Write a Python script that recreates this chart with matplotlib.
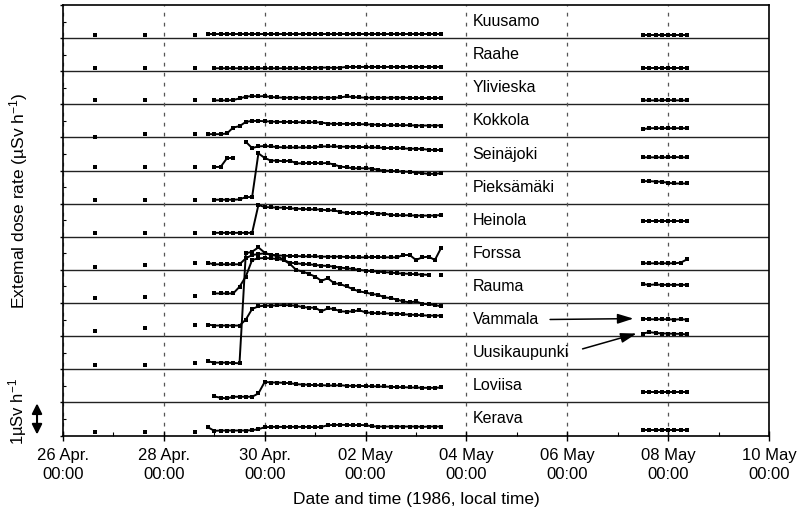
import numpy as np
import pandas as pd
import matplotlib
matplotlib.use('Agg')
import matplotlib.pyplot as plt
import matplotlib.dates as mdates

plt.rcParams['font.family'] = ['Liberation Sans', 'DejaVu Sans']
plt.rcParams['mathtext.fontset'] = 'custom'
plt.rcParams['mathtext.rm'] = 'Liberation Sans'
plt.rcParams['mathtext.it'] = 'Liberation Sans:italic'

nan = np.nan

# sampling times: three daily readings, 3-hourly series, and the later check
t_daily = pd.to_datetime(['1986-04-26 15:00', '1986-04-27 15:00', '1986-04-28 15:00'])
t_main = pd.date_range('1986-04-28 21:00', '1986-05-03 12:00', freq='3h')
t_late = pd.date_range('1986-05-07 12:00', periods=8, freq='3h')

# dose rates, uSv/h
kuusamo_d = [0.09, 0.09, 0.09]
kuusamo_m = [0.11, 0.11, 0.11, 0.11, 0.11, 0.11, 0.11, 0.11, 0.11, 0.11,
             0.11, 0.11, 0.11, 0.11, 0.11, 0.11, 0.11, 0.11, 0.11, 0.11,
             0.11, 0.11, 0.11, 0.11, 0.11, 0.11, 0.11, 0.11, 0.11, 0.11,
             0.11, 0.11, 0.11, 0.11, 0.11, 0.11, 0.11, 0.11]
kuusamo_l = [0.1, 0.1, 0.1, 0.1, 0.1, 0.1, 0.1, 0.1]

raahe_d = [0.09, 0.09, 0.09]
raahe_m = [nan, 0.09, 0.09, 0.09, 0.09, 0.09, 0.09, 0.09, 0.09, 0.09,
           0.09, 0.09, 0.09, 0.09, 0.09, 0.09, 0.1, 0.1, 0.11, 0.11,
           0.1, 0.11, 0.13, 0.13, 0.13, 0.13, 0.13, 0.13, 0.13, 0.13,
           0.13, 0.13, 0.13, 0.13, 0.13, 0.13, 0.13, 0.13]
raahe_l = [0.09, 0.09, 0.09, 0.09, 0.09, 0.09, 0.09, 0.09]

ylivieska_d = [0.13, 0.13, 0.13]
ylivieska_m = [nan, 0.12, 0.12, 0.12, 0.13, 0.18, 0.23, 0.25, 0.24, 0.25,
               0.22, 0.21, 0.2, 0.2, 0.2, 0.2, 0.2, 0.2, 0.2, 0.2,
               0.2, 0.21, 0.24, 0.22, 0.21, 0.2, 0.2, 0.2, 0.2, 0.2,
               0.2, 0.2, 0.19, 0.19, 0.19, 0.19, 0.19, 0.19]
ylivieska_l = [0.12, 0.12, 0.12, 0.12, 0.13, 0.12, 0.12, 0.12]

kokkola_d = [0.02, 0.09, 0.09]
kokkola_m = [0.1, 0.1, 0.1, 0.12, 0.3, 0.34, 0.47, 0.5, 0.5, 0.49,
             0.48, 0.47, 0.47, 0.47, 0.46, 0.46, 0.46, 0.46, 0.45, 0.42,
             0.41, 0.41, 0.41, 0.41, 0.4, 0.4, 0.39, 0.38, 0.37, 0.37,
             0.37, 0.37, 0.37, 0.36, 0.36, 0.36, 0.36, 0.36]
kokkola_l = [0.25, 0.28, 0.28, 0.28, 0.28, 0.28, 0.28, 0.28]

seinajoki_d = [0.11, 0.11, 0.11]
seinajoki_m = [nan, 0.11, 0.11, 0.37, 0.39, nan, 0.87, 0.68, 0.73, 0.74,
               0.73, 0.71, 0.7, 0.7, 0.7, 0.7, 0.7, 0.71, 0.73, 0.73,
               0.73, 0.72, 0.72, 0.72, 0.71, 0.71, 0.7, 0.7, 0.68, 0.68,
               0.68, 0.67, 0.66, 0.66, 0.65, 0.63, 0.62, 0.62]
seinajoki_l = [0.4, 0.4, 0.4, 0.4, 0.4, 0.41, 0.4, 0.4]

pieksamaki_d = [0.11, 0.11, 0.12]
pieksamaki_m = [nan, 0.12, 0.12, 0.12, 0.12, 0.13, 0.2, 0.2, 1.52, 1.38,
                1.3, 1.3, 1.28, 1.3, 1.22, 1.22, 1.23, 1.23, 1.22, 1.23,
                1.18, 1.12, 1.1, 1.07, 1.07, 1.07, 1.06, 1.02, 1.0, 0.99,
                0.98, 0.97, 0.96, 0.94, 0.92, 0.9, 0.9, 0.92]
pieksamaki_l = [0.68, 0.68, 0.67, 0.66, 0.63, 0.61, 0.61, 0.61]

heinola_d = [0.12, 0.12, 0.12]
heinola_m = [nan, 0.12, 0.12, 0.12, 0.12, 0.12, 0.12, 0.12, 0.96, 0.9,
             0.89, 0.88, 0.88, 0.86, 0.85, 0.84, 0.83, 0.83, 0.82, 0.8,
             0.8, 0.75, 0.72, 0.72, 0.72, 0.72, 0.72, 0.7, 0.7, 0.66,
             0.65, 0.65, 0.65, 0.64, 0.64, 0.64, 0.64, 0.66]
heinola_l = [0.47, 0.47, 0.47, 0.47, 0.47, 0.47, 0.47, 0.47]

forssa_d = [0.09, 0.14, 0.2]
forssa_m = [0.21, 0.17, 0.17, 0.17, 0.17, 0.17, 0.35, 0.45, 0.48, 0.5,
            0.46, 0.44, 0.43, 0.42, 0.42, 0.41, 0.41, 0.41, 0.4, 0.4,
            0.4, 0.4, 0.39, 0.38, 0.38, 0.38, 0.39, 0.39, 0.38, 0.38,
            0.38, 0.45, 0.45, 0.3, 0.38, 0.4, 0.3, 0.67]
forssa_l = [0.2, 0.2, 0.2, 0.2, 0.2, 0.2, 0.22, 0.32]

rauma_d = [0.15, 0.18, 0.22]
rauma_m = [nan, 0.29, 0.29, 0.29, 0.29, 0.49, 0.8, 1.3, 1.35, 1.36,
           1.35, 1.33, 1.3, 1.22, 1.2, 1.18, 1.17, 1.15, 1.13, 1.12,
           1.1, 1.07, 1.05, 1.03, 1.0, 0.98, 0.96, 0.95, 0.93, 0.92,
           0.9, 0.89, 0.88, 0.87, 0.86, 0.85, nan, 0.84]
rauma_l = [0.57, 0.55, 0.56, 0.55, 0.55, 0.55, 0.55, 0.55]

vammala_d = [0.15, 0.24, 0.33]
vammala_m = [0.35, 0.32, 0.32, 0.32, 0.32, 0.32, 0.5, 0.82, 0.9, 0.92,
             0.92, 0.93, 0.94, 0.93, 0.92, 0.88, 0.86, 0.86, 0.75, 0.84,
             0.82, 0.75, 0.74, 0.75, 0.78, 0.72, 0.7, 0.69, 0.69, 0.68,
             0.68, 0.66, 0.65, 0.64, 0.63, 0.62, 0.62, 0.62]
vammala_l = [0.53, 0.51, 0.51, 0.51, 0.51, 0.5, 0.51, 0.5]

uusikaupunki_d = [0.12, 0.12, 0.18]
uusikaupunki_m = [0.24, 0.2, 0.2, 0.2, 0.19, 0.18, 3.5, 3.55, 3.68, 3.52,
                  3.45, 3.42, 3.3, 3.18, 3.0, 2.95, 2.88, 2.8, 2.67, 2.75,
                  2.6, 2.57, 2.5, 2.42, 2.35, 2.32, 2.27, 2.25, 2.17, 2.15,
                  2.1, 2.05, 2.02, 2.05, 1.98, 1.96, 1.94, 1.9]
uusikaupunki_l = [1.08, 1.12, 1.1, 1.08, 1.08, 1.07, 1.07, 1.05]

loviisa_d = [nan, nan, nan]
loviisa_m = [nan, 0.18, 0.14, 0.12, 0.17, 0.17, 0.17, 0.17, 0.27, 0.62,
             0.6, 0.6, 0.59, 0.58, 0.55, 0.54, 0.53, 0.52, 0.52, 0.51,
             0.51, 0.52, 0.5, 0.5, 0.5, 0.49, 0.49, 0.48, 0.48, 0.47,
             0.46, 0.46, 0.45, 0.45, 0.44, 0.44, 0.44, 0.45]
loviisa_l = [0.3, 0.3, 0.3, 0.3, 0.3, 0.3, 0.3, 0.3]

kerava_d = [0.1, 0.1, 0.1]
kerava_m = [0.25, 0.14, 0.15, 0.15, 0.15, 0.15, 0.15, 0.16, 0.19, 0.25,
            0.26, 0.26, 0.26, 0.26, 0.26, 0.26, 0.26, 0.25, 0.26, 0.31,
            0.32, 0.32, 0.32, 0.31, 0.32, 0.31, 0.28, 0.27, 0.27, 0.27,
            0.27, 0.27, 0.27, 0.27, 0.26, 0.27, 0.27, 0.27]
kerava_l = [0.18, 0.18, 0.18, 0.18, 0.18, 0.18, 0.18, 0.18]

# top to bottom
stations = [
    ('Kuusamo', kuusamo_d, kuusamo_m, kuusamo_l),
    ('Raahe', raahe_d, raahe_m, raahe_l),
    ('Ylivieska', ylivieska_d, ylivieska_m, ylivieska_l),
    ('Kokkola', kokkola_d, kokkola_m, kokkola_l),
    ('Seinäjoki', seinajoki_d, seinajoki_m, seinajoki_l),
    ('Pieksämäki', pieksamaki_d, pieksamaki_m, pieksamaki_l),
    ('Heinola', heinola_d, heinola_m, heinola_l),
    ('Forssa', forssa_d, forssa_m, forssa_l),
    ('Rauma', rauma_d, rauma_m, rauma_l),
    ('Vammala', vammala_d, vammala_m, vammala_l),
    ('Uusikaupunki', uusikaupunki_d, uusikaupunki_m, uusikaupunki_l),
    ('Loviisa', loviisa_d, loviisa_m, loviisa_l),
    ('Kerava', kerava_d, kerava_m, kerava_l),
]
n = len(stations)

fig = plt.figure(figsize=(7.98, 5.11), dpi=100)
ax = fig.add_axes([63 / 798, 1 - 435.5 / 511, 706 / 798, 430.5 / 511])

style = dict(color='k', marker='s', ms=3.4, mew=0, lw=1.4, zorder=3)
label_x = mdates.date2num(pd.Timestamp('1986-05-04 03:00'))
fs_lab = 11.5
bases = {}
for k, (name, d, m, l) in enumerate(stations):
    base = n - 1 - k
    bases[name] = base
    ax.plot(t_daily, base + np.array(d), ls='none', **style)
    ax.plot(t_main, base + np.array(m), **style)
    ax.plot(t_late, base + np.array(l), **style)
    if name not in ('Vammala', 'Uusikaupunki'):
        ax.text(label_x, base + 0.5, name, ha='left', va='center', fontsize=fs_lab)

# labels with arrows pointing at the May readings
tip_v = mdates.date2num(t_late[0] - pd.Timedelta(hours=4.5))
ax.annotate('Vammala', xy=(tip_v, bases['Vammala'] + vammala_l[0]),
            xytext=(label_x, bases['Vammala'] + 0.5), ha='left', va='center', fontsize=fs_lab,
            arrowprops=dict(arrowstyle='-|>,head_length=0.8,head_width=0.25', color='k', lw=1.1,
                            relpos=(1, 0.5), shrinkA=6, shrinkB=0, mutation_scale=12))
tip_u = mdates.date2num(t_late[0] - pd.Timedelta(hours=3))
ax.annotate('Uusikaupunki', xy=(tip_u, bases['Uusikaupunki'] + uusikaupunki_l[0]),
            xytext=(label_x, bases['Uusikaupunki'] + 0.5), ha='left', va='center', fontsize=fs_lab,
            arrowprops=dict(arrowstyle='-|>,head_length=0.8,head_width=0.25', color='k', lw=1.1,
                            relpos=(1, 0.5), shrinkA=8, shrinkB=0, mutation_scale=12))

for b in range(1, n):
    ax.axhline(b, color='#222222', lw=1.0, zorder=1)

ax.set_ylim(0, n)
ax.set_yticks(range(n + 1))
ax.set_yticks(np.arange(0.5, n, 1), minor=True)
ax.set_yticklabels([])
ax.tick_params(axis='y', which='major', direction='out', length=2.3, width=1)
ax.tick_params(axis='y', which='minor', direction='in', length=1.8, width=0.8)

t_ticks = pd.date_range('1986-04-26', '1986-05-10', freq='2D')
t_minor = pd.date_range('1986-04-27', '1986-05-09', freq='2D')
ax.set_xlim(t_ticks[0], t_ticks[-1])
ax.set_xticks(t_ticks)
ax.set_xticks(t_minor, minor=True)
ax.set_xticklabels([f"{d.day:02d} {'Apr.' if d.month == 4 else 'May'}\n{d:%H:%M}" for d in t_ticks],
                   fontsize=12, linespacing=1.3)
ax.tick_params(axis='x', which='major', direction='inout', length=6.5, width=1, pad=6)
ax.tick_params(axis='x', which='minor', direction='in', length=3, width=0.8)
ax.grid(axis='x', which='major', color='#555555', ls=(0, (3, 5)), lw=0.9)

for s in ax.spines.values():
    s.set_linewidth(1.2)
    s.set_color('k')

ax.set_xlabel('Date and time (1986, local time)', fontsize=12.5, labelpad=7)
fig.text(19 / 798, 1 - 201 / 511, 'Extemal dose rate (µSv h$^{-1}$)', rotation=90,
         ha='center', va='center', fontsize=12.5)
fig.text(18 / 798, 1 - 412 / 511, '1µSv h$^{-1}$', rotation=90, ha='center', va='center', fontsize=12)

# 1 uSv/h scale bar beside the lowest strip
ax.annotate('', xy=(-0.0368, 0.03), xytext=(-0.0368, 0.97),
            xycoords=ax.get_yaxis_transform(), textcoords=ax.get_yaxis_transform(),
            arrowprops=dict(arrowstyle='<|-|>,head_length=0.6,head_width=0.3', color='k', lw=1.5,
                            shrinkA=0, shrinkB=0, mutation_scale=10),
            annotation_clip=False)

fig.savefig('out.png', dpi=100)
